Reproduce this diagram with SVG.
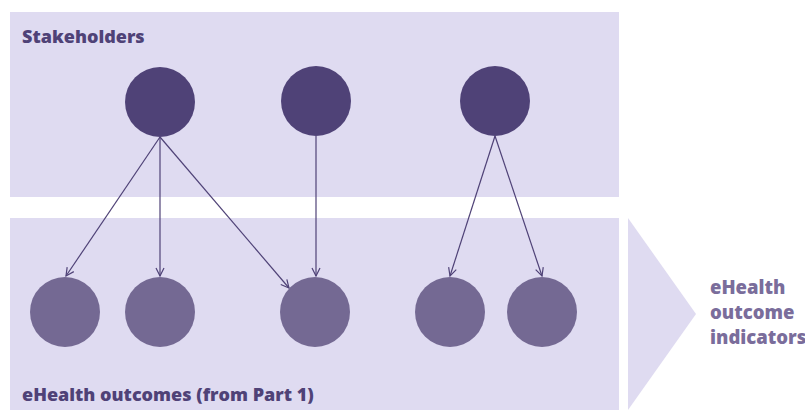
<svg xmlns="http://www.w3.org/2000/svg" width="805" height="410" viewBox="0 0 805 410">
<style>
.panel{fill:#dfdbf1}
.top{fill:#4f4277}
.bot{fill:#746993}
.conn{stroke:#4f4277;stroke-width:1.2;fill:none;marker-end:url(#ah)}
.lbl{font-family:"Open Sans","Liberation Sans",sans-serif;font-weight:800;fill:#4f4277;font-size:18px}
.side{font-family:"Open Sans","Liberation Sans",sans-serif;font-weight:800;fill:#7a6d9b;font-size:18.5px}
</style>
<defs>
<marker id="ah" viewBox="0 0 10 10" refX="9" refY="5" markerWidth="10" markerHeight="10" markerUnits="userSpaceOnUse" orient="auto">
<path d="M1,1 L9,5 L1,9" fill="none" stroke="#4f4277" stroke-width="1.2"/>
</marker>
</defs>
<g id="panel-stakeholders">
<rect class="panel" x="10" y="12" width="609" height="185"/>
<text class="lbl" x="22" y="43">Stakeholders</text>
</g>
<g id="panel-outcomes">
<rect class="panel" x="10" y="218" width="609" height="192"/>
<text class="lbl" x="22" y="401">eHealth outcomes (from Part 1)</text>
</g>
<g id="indicators">
<polygon class="panel" points="628,218 696,314 628,410"/>
<text class="side" x="710" y="294">eHealth</text>
<text class="side" x="710" y="319">outcome</text>
<text class="side" x="710" y="344">indicators</text>
</g>
<g id="connectors">
<line class="conn" x1="160" y1="137" x2="66" y2="276"/>
<line class="conn" x1="160" y1="137" x2="160" y2="276"/>
<line class="conn" x1="160" y1="137" x2="289" y2="288"/>
<line class="conn" x1="316" y1="136" x2="316" y2="276"/>
<line class="conn" x1="495" y1="136" x2="450" y2="276"/>
<line class="conn" x1="495" y1="136" x2="542" y2="276"/>
</g>
<g id="s1"><circle class="top" cx="160" cy="102" r="35"/></g>
<g id="s2"><circle class="top" cx="316" cy="101" r="35"/></g>
<g id="s3"><circle class="top" cx="495" cy="101" r="35"/></g>
<g id="o1"><circle class="bot" cx="65" cy="312" r="35"/></g>
<g id="o2"><circle class="bot" cx="160" cy="312" r="35"/></g>
<g id="o3"><circle class="bot" cx="315" cy="312" r="35"/></g>
<g id="o4"><circle class="bot" cx="450" cy="312" r="35"/></g>
<g id="o5"><circle class="bot" cx="542" cy="312" r="35"/></g>
</svg>
